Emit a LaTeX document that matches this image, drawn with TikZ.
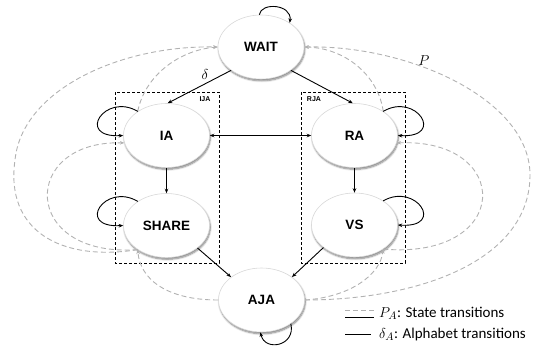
\documentclass[tikz,border=0pt]{standalone}
\usepackage{fontspec}
\newfontfamily\nodefont{Liberation Sans}
\newfontfamily\legfont{Carlito}
\usetikzlibrary{shapes.geometric,arrows.meta,shadows.blur}
\begin{document}
\begin{tikzpicture}[x=1pt,y=-1pt,
  state/.style={ellipse, minimum width=86pt, minimum height=64pt, inner sep=0pt,
    fill=white, draw=gray!30, line width=0.6pt,
    blur shadow={shadow xshift=0.8pt, shadow yshift=-1.8pt, shadow blur steps=6, shadow opacity=50},
    font=\nodefont\bfseries\fontsize{13.5}{15}\selectfont},
  tr/.style={black, line width=0.9pt, -{Stealth[length=4.5pt,width=3.6pt]}},
  trb/.style={black, line width=0.9pt, {Stealth[length=4.5pt,width=3.6pt]}-{Stealth[length=4.5pt,width=3.6pt]}},
  pt/.style={gray!60, line width=0.9pt, dash pattern=on 5pt off 3pt, -{Stealth[length=4.5pt,width=3.6pt]}},
  pl/.style={gray!60, line width=0.9pt, dash pattern=on 5pt off 3pt},
  grp/.style={black, line width=0.8pt, dash pattern=on 3pt off 2pt},
  grplabel/.style={font=\nodefont\bfseries\fontsize{7}{8}\selectfont, inner sep=0pt},
  leg/.style={font=\legfont\fontsize{15}{17}\selectfont, anchor=west, inner sep=0pt},
  sym/.style={font=\fontsize{14}{16}\selectfont, inner sep=0pt}
]
\useasboundingbox (0,0) rectangle (542,354);

% group boxes
\draw[grp] (115,92) rectangle (219,263);
\draw[grp] (301,92) rectangle (405,263);
\node[grplabel] (ija) at (205,99) {IJA};
\node[grplabel] (rja) at (314,99) {RJA};

% states
\node[state] (WAIT)  at (261,47)     {WAIT};
\node[state] (IA)    at (166.5,135.5) {IA};
\node[state] (RA)    at (354.5,135.5) {RA};
\node[state] (SHARE) at (166.5,225.5) {SHARE};
\node[state] (VS)    at (354.5,225)   {VS};
\node[state] (AJA)   at (261.5,300)   {AJA};

% gray dashed transitions, left
\draw[pt] (IA.140) .. controls (145,75) and (180,50) .. (WAIT.180);
\draw[pt] (SHARE.220) .. controls (60,262) and (5,230) .. (15,160)
          .. controls (22,90) and (120,45) .. (WAIT.180);
\draw[pt] (SHARE.220) .. controls (20,258) and (20,140) .. (IA.190);
\draw[pt] (AJA.180) .. controls (165,300) and (140,278) .. (SHARE.220);

% gray dashed transitions, right
\draw[pt] (RA.40) .. controls (378,75) and (345,48) .. (WAIT.0);
\draw[pt] (AJA.0) .. controls (420,300) and (530,260) .. (530,175)
          .. controls (530,100) and (410,45) .. (WAIT.0);
\draw[pt] (VS.-40) .. controls (513,260) and (513,138) .. (RA.-10);
\draw[pt] (AJA.0) .. controls (350,297) and (380,275) .. (VS.-40);

% solid transitions
\draw[tr] (WAIT.218) -- (IA.88);
\draw[tr] (WAIT.-38) -- (RA.93);
\draw[trb] (IA.east) -- (RA.west);
\draw[tr] (IA.south) -- (SHARE.north);
\draw[tr] (RA.south) -- (VS.north);
\draw[tr] (SHARE.-36) -- (AJA.143);
\draw[tr] (VS.216) -- (AJA.37);

% loops
\draw[tr] (WAIT.93) .. controls (261,2) and (292,4) .. (WAIT.40);
\draw[tr] (IA.140) .. controls (105,92) and (75,138) .. (IA.180);
\draw[tr] (SHARE.140) .. controls (105,182) and (75,228) .. (SHARE.180);
\draw[tr] (RA.40) .. controls (416,92) and (446,138) .. (RA.0);
\draw[tr] (VS.40) .. controls (416,182) and (446,228) .. (VS.0);
\draw[tr] (AJA.-39) .. controls (296,346) and (265,352) .. (AJA.-92);

% labels
\node[sym] (delta) at (205,74) {$\delta$};
\node[sym] (plab) at (424,61) {$P$};

% legend
\coordinate (l1a) at (345,310); \coordinate (l1b) at (374,310);
\coordinate (l2a) at (345,317); \coordinate (l2b) at (374,317);
\coordinate (l3a) at (345,334); \coordinate (l3b) at (371,334);
\draw[pl] (l1a) -- (l1b);
\draw[black, line width=0.8pt] (l2a) -- (l2b);
\draw[black, line width=0.8pt] (l3a) -- (l3b);
\node[leg] (leg1) at (379,313.5) {$P_A$: State transitions};
\node[leg] (leg2) at (379,334.5) {$\delta_A$: Alphabet transitions};
\end{tikzpicture}
\end{document}
